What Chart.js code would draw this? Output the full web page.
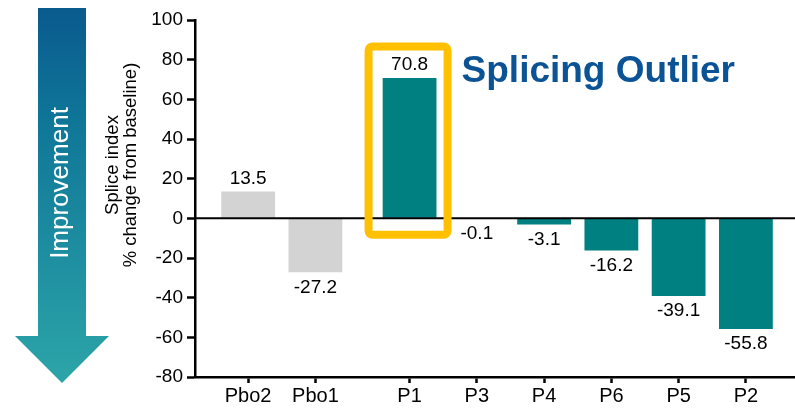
<!DOCTYPE html>
<html>
<head>
<meta charset="utf-8">
<script src="https://cdn.jsdelivr.net/npm/chart.js@4/dist/chart.umd.min.js"></script>
<style>
  html, body { margin: 0; padding: 0; background: #ffffff; }
  #wrap { width: 795px; height: 409px; position: relative; }
</style>
</head>
<body>
<div id="wrap"><canvas id="chart" width="795" height="409"></canvas></div>
<script>
// Splice index, % change from baseline, per participant
const categories = ['Pbo2', 'Pbo1', 'P1', 'P3', 'P4', 'P6', 'P5', 'P2'];
const changeFromBaseline = [13.5, -27.2, 70.8, -0.1, -3.1, -16.2, -39.1, -55.8];
const yTicks = [100, 80, 60, 40, 20, 0, -20, -40, -60, -80];
const placeboCount = 2;
const outlierCategory = 'P1';
const axisTitleLines = ['Splice index', '% change from baseline)'];
const outlierText = 'Splicing Outlier';
const arrowText = 'Improvement';

// Placebo group, then a wider gap before the treated participants
const groupGap = 1.4;
const xPositions = categories.map((c, i) => (i < placeboCount ? i : i - 1 + groupGap));

const FONT = '"Liberation Sans", Arial, Helvetica, sans-serif';
const TEAL = '#008080';
const GREY = '#d3d3d3';

const decorations = {
  id: 'decorations',
  beforeDraw(chart) {
    const ctx = chart.ctx;
    ctx.save();
    // Vertical "Improvement" arrow on the far left
    const g = ctx.createLinearGradient(0, 8, 0, 383);
    g.addColorStop(0, '#0a5a8e');
    g.addColorStop(0.3, '#0f7698');
    g.addColorStop(1, '#2ca5a8');
    ctx.fillStyle = g;
    ctx.beginPath();
    ctx.moveTo(38, 8);
    ctx.lineTo(86, 8);
    ctx.lineTo(86, 336);
    ctx.lineTo(109, 336);
    ctx.lineTo(62, 383);
    ctx.lineTo(15, 336);
    ctx.lineTo(38, 336);
    ctx.closePath();
    ctx.fill();

    ctx.translate(61, 183);
    ctx.rotate(-Math.PI / 2);
    ctx.fillStyle = '#ffffff';
    ctx.font = '26px ' + FONT;
    ctx.textAlign = 'center';
    ctx.textBaseline = 'middle';
    ctx.fillText(arrowText, 0, 0);
    ctx.restore();

    // Y axis title, two rotated centred lines
    ctx.save();
    ctx.fillStyle = '#000000';
    ctx.font = '18.5px ' + FONT;
    ctx.textAlign = 'center';
    ctx.textBaseline = 'middle';
    [113, 131].forEach((x, i) => {
      ctx.save();
      ctx.translate(x, 165);
      ctx.rotate(-Math.PI / 2);
      ctx.fillText(axisTitleLines[i], 0, 0);
      ctx.restore();
    });
    ctx.restore();
  },
  afterDatasetsDraw(chart) {
    const ctx = chart.ctx;
    const xs = chart.scales.x;
    const ys = chart.scales.y;
    const area = chart.chartArea;
    ctx.save();

    // Zero reference line
    const y0 = ys.getPixelForValue(0);
    ctx.strokeStyle = '#000000';
    ctx.lineWidth = 2;
    ctx.beginPath();
    ctx.moveTo(area.left, y0);
    ctx.lineTo(area.right, y0);
    ctx.stroke();

    // Value labels
    const meta = chart.getDatasetMeta(0);
    ctx.fillStyle = '#000000';
    ctx.font = '19px ' + FONT;
    ctx.textAlign = 'center';
    ctx.textBaseline = 'middle';
    meta.data.forEach((bar, i) => {
      const v = changeFromBaseline[i];
      const y = v >= 0 ? bar.y - 13 : Math.max(bar.y, y0) + 15;
      ctx.fillText(v.toFixed(1), bar.x, y);
    });

    // Highlight box around the outlier
    const oi = categories.indexOf(outlierCategory);
    const px = xs.getPixelForValue(xPositions[oi]);
    const left = px - 41, right = px + 38;
    const top = ys.getPixelForValue(86.7), bottom = ys.getPixelForValue(-8.3);
    const r = 4;
    ctx.strokeStyle = '#ffc000';
    ctx.lineWidth = 8;
    ctx.lineJoin = 'round';
    ctx.beginPath();
    ctx.moveTo(left + r, top);
    ctx.lineTo(right - r, top);
    ctx.arcTo(right, top, right, top + r, r);
    ctx.lineTo(right, bottom - r);
    ctx.arcTo(right, bottom, right - r, bottom, r);
    ctx.lineTo(left + r, bottom);
    ctx.arcTo(left, bottom, left, bottom - r, r);
    ctx.lineTo(left, top + r);
    ctx.arcTo(left, top, left + r, top, r);
    ctx.closePath();
    ctx.stroke();

    ctx.fillStyle = '#0b5394';
    ctx.font = 'bold 37px ' + FONT;
    ctx.textAlign = 'left';
    ctx.textBaseline = 'alphabetic';
    ctx.fillText(outlierText, right + 14, top + 36);
    ctx.restore();
  }
};

new Chart(document.getElementById('chart'), {
  type: 'bar',
  data: {
    datasets: [{
      data: categories.map((c, i) => ({ x: xPositions[i], y: changeFromBaseline[i] })),
      backgroundColor: categories.map((c, i) => (i < placeboCount ? GREY : TEAL)),
      borderWidth: 0,
      barPercentage: 1,
      categoryPercentage: 0.8
    }]
  },
  options: {
    responsive: false,
    animation: false,
    devicePixelRatio: 1,
    layout: { padding: { top: 20, right: 0, bottom: 0, left: 0 } },
    plugins: { legend: { display: false }, tooltip: { enabled: false } },
    scales: {
      x: {
        type: 'linear',
        offset: false,
        min: -0.79,
        max: 8.13,
        afterBuildTicks(scale) {
          scale.ticks = xPositions.map(v => ({ value: v }));
        },
        afterFit(scale) { scale.height = 32; },
        ticks: {
          autoSkip: false,
          maxRotation: 0,
          padding: 1,
          color: '#000000',
          font: { family: FONT, size: 20 },
          callback: (value, index) => categories[index]
        },
        grid: { display: true, offset: false, drawOnChartArea: false, drawTicks: true, tickLength: 6, tickColor: '#000000', tickWidth: 2.5 },
        border: { display: true, color: '#000000', width: 2.5 }
      },
      y: {
        min: Math.min(...yTicks),
        max: Math.max(...yTicks),
        afterBuildTicks(scale) {
          scale.ticks = yTicks.map(v => ({ value: v }));
        },
        afterFit(scale) { scale.width = 195; },
        ticks: {
          padding: 4,
          color: '#000000',
          font: { family: FONT, size: 19 }
        },
        grid: { display: true, drawOnChartArea: false, drawTicks: true, tickLength: 8, tickColor: '#000000', tickWidth: 2.5 },
        border: { display: true, color: '#000000', width: 2.5 }
      }
    }
  },
  plugins: [decorations]
});
</script>
</body>
</html>
